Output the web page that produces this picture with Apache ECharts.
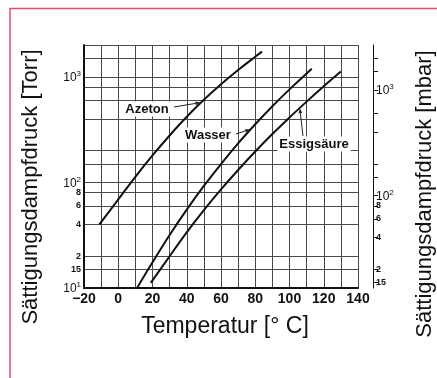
<!DOCTYPE html>
<html>
<head>
<meta charset="utf-8">
<script src="https://cdn.jsdelivr.net/npm/echarts@6/dist/echarts.min.js"></script>
<style>
  html, body { margin: 0; padding: 0; background: #fff; }
  #chart { width: 437px; height: 378px; }
</style>
</head>
<body>
<div id="chart"></div>
<script>
// Sättigungsdampfdruck [Torr] über Temperatur [°C]
const azetonT = [-11, 0, 10, 20, 30, 40, 50, 60, 70, 80, 84]
const azetonP = [40, 69, 113, 180, 278, 418, 605, 850, 1160, 1550, 1730]
const wasserT = [11, 20, 30, 40, 50, 60, 70, 80, 90, 100, 110, 113]
const wasserP = [10, 17.5, 31.8, 55.3, 92.5, 149, 234, 355, 526, 760, 1075, 1190]
const essigT = [19, 30, 40, 50, 60, 70, 80, 90, 100, 110, 120, 130]
const essigP = [11.2, 20, 33.6, 54.5, 85.7, 131, 196, 287, 412, 582, 813, 1120]

// Achsen
const tempLabels = [-20, 0, 20, 40, 60, 80, 100, 120, 140]
const torrLines = [10, 15, 20, 40, 60, 80, 100, 150, 200, 400, 600, 800, 1000, 1500, 2000]
const torrLabels = [10, 15, 20, 40, 60, 80, 100, 1000]
const mbarTicks = [15, 20, 40, 60, 80, 100, 150, 200, 400, 600, 1000, 1500, 2000]
const mbarLabels = [15, 20, 40, 60, 80, 100, 1000]
const TORR_TO_MBAR = 1.33322

const FONT = '"Liberation Sans", Arial, Helvetica, sans-serif'
const lg = Math.log10

const toSeries = (ts, ps) => ts.map((t, i) => [t, lg(ps[i])])

function pressLabel (v) {
  const p = Math.round(Math.pow(10, v))
  const e = Math.round(lg(p))
  if (Math.pow(10, e) === p) return '{a|10}{s|' + e + '}'
  if (p === 15) return '{m|15}'
  return '{m|' + p / 10 + '}'
}

const richLabel = {
  a: { fontSize: 12, fontFamily: FONT, color: '#111', lineHeight: 14, verticalAlign: 'bottom' },
  s: { fontSize: 8, fontFamily: FONT, color: '#111', lineHeight: 8, verticalAlign: 'top' },
  m: { fontSize: 9, fontWeight: 'bold', fontFamily: FONT, color: '#111' }
}

const lineStyle = { color: '#111', width: 2 }

const chart = echarts.init(document.getElementById('chart'))

chart.setOption({
  animation: false,
  grid: { left: 84, top: 45, right: 79, bottom: 90, containLabel: false },
  xAxis: {
    type: 'value',
    min: -20,
    max: 140,
    interval: 10,
    axisLine: { onZero: false, lineStyle: { color: '#111', width: 2 } },
    axisTick: { show: false },
    splitLine: { lineStyle: { color: '#4a4a4a', width: 1 } },
    axisLabel: {
      margin: 4,
      fontSize: 14,
      fontWeight: 'bold',
      fontFamily: FONT,
      color: '#111',
      formatter: v => tempLabels.indexOf(v) >= 0 ? (v < 0 ? '\u2212' + (-v) : String(v)) : ''
    }
  },
  yAxis: [
    {
      type: 'value',
      min: lg(10),
      max: lg(2000),
      axisLine: { show: true, onZero: false, lineStyle: { color: '#111', width: 2 } },
      axisTick: { show: false, customValues: torrLines.map(lg) },
      splitLine: { show: true, lineStyle: { color: '#4a4a4a', width: 1 } },
      axisLabel: {
        margin: 3,
        customValues: torrLabels.map(lg),
        formatter: pressLabel,
        rich: richLabel
      }
    },
    {
      type: 'value',
      position: 'right',
      offset: 15,
      min: lg(10 * TORR_TO_MBAR),
      max: lg(2000 * TORR_TO_MBAR),
      axisLine: { show: true, onZero: false, lineStyle: { color: '#111', width: 1 } },
      axisTick: { show: true, length: 5, lineStyle: { color: '#111' }, customValues: mbarTicks.map(lg) },
      splitLine: { show: false },
      axisLabel: {
        margin: 3,
        customValues: mbarLabels.map(lg),
        formatter: pressLabel,
        rich: richLabel
      }
    }
  ],
  series: [
    { name: 'Azeton', type: 'line', smooth: 0.4, showSymbol: false, lineStyle, data: toSeries(azetonT, azetonP) },
    { name: 'Wasser', type: 'line', smooth: 0.4, showSymbol: false, lineStyle, data: toSeries(wasserT, wasserP) },
    { name: 'Essigsäure', type: 'line', smooth: 0.4, showSymbol: false, lineStyle, data: toSeries(essigT, essigP) }
  ]
})

// Beschriftung der Kurven mit Hinweislinien
const px = (t, p) => chart.convertToPixel({ gridIndex: 0 }, [t, lg(p)])

function leader (from, to) {
  const dx = to[0] - from[0]
  const dy = to[1] - from[1]
  const len = Math.sqrt(dx * dx + dy * dy)
  const ux = dx / len
  const uy = dy / len
  const b = [to[0] - ux * 5, to[1] - uy * 5]
  return [
    { type: 'polyline', shape: { points: [from, b] }, style: { stroke: '#222', lineWidth: 1 } },
    {
      type: 'polygon',
      shape: { points: [to, [b[0] - uy * 1.8, b[1] + ux * 1.8], [b[0] + uy * 1.8, b[1] - ux * 1.8]] },
      style: { fill: '#222' }
    }
  ]
}

const labelFont = 'bold 13px ' + FONT
const titleFont = '22px ' + FONT

chart.setOption({
  graphic: [
    {
      type: 'polyline',
      shape: { points: [[10, 378], [10, 8.5], [437, 8.5]] },
      style: { stroke: '#e84a6c', lineWidth: 1.5, fill: null }
    },
    {
      type: 'text', x: 31, y: 187, rotation: Math.PI / 2,
      style: { text: 'Sättigungsdampfdruck [Torr]', font: titleFont, fill: '#111', align: 'center', verticalAlign: 'middle' }
    },
    {
      type: 'text', x: 425, y: 194, rotation: Math.PI / 2,
      style: { text: 'Sättigungsdampfdruck [mbar]', font: titleFont, fill: '#111', align: 'center', verticalAlign: 'middle' }
    },
    {
      type: 'text', x: 225, y: 327,
      style: { text: 'Temperatur [\u00b0 C]', font: '23px ' + FONT, fill: '#111', align: 'center', verticalAlign: 'middle' }
    },
    { type: 'text', x: 147, y: 109, style: { text: 'Azeton', font: labelFont, fill: '#111', align: 'center', verticalAlign: 'middle', backgroundColor: '#fff', padding: [1, 2] } },
    { type: 'text', x: 208, y: 135, style: { text: 'Wasser', font: labelFont, fill: '#111', align: 'center', verticalAlign: 'middle', backgroundColor: '#fff', padding: [1, 2] } },
    { type: 'text', x: 314, y: 144, style: { text: 'Essigsäure', font: labelFont, fill: '#111', align: 'center', verticalAlign: 'middle', backgroundColor: '#fff', padding: [1, 2] } },
    ...leader([174, 107], px(48, 570)),
    ...leader([236, 134], px(77, 318)),
    ...leader([303, 136], px(106, 505))
  ]
})
</script>
</body>
</html>
